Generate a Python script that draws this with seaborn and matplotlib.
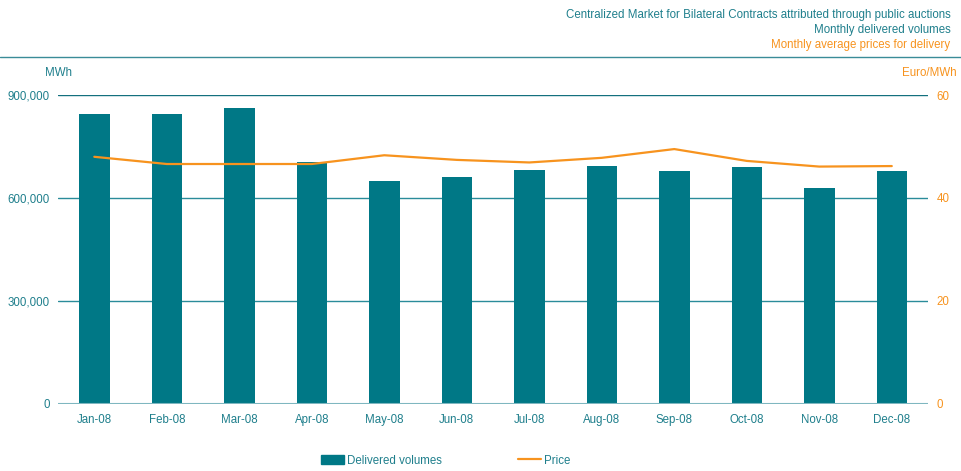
import seaborn as sns
import matplotlib.pyplot as plt
import matplotlib.lines as mlines
import matplotlib.patches as mpatches
import pandas as pd

months = ['Jan-08', 'Feb-08', 'Mar-08', 'Apr-08', 'May-08', 'Jun-08',
          'Jul-08', 'Aug-08', 'Sep-08', 'Oct-08', 'Nov-08', 'Dec-08']
volumes = [845000, 845000, 862000, 705000, 650000, 661000,
           681000, 693000, 679000, 690000, 629000, 679000]
prices = [48.0, 46.6, 46.6, 46.6, 48.3, 47.4,
          46.9, 47.8, 49.5, 47.2, 46.1, 46.2]

teal = '#007886'
teal_text = '#1f7f8c'
orange = '#f7931e'

sns.set_style('white')
plt.rcParams['font.family'] = ['Liberation Sans', 'DejaVu Sans']
plt.rcParams['font.size'] = 8.3

df = pd.DataFrame({'month': months, 'volume': volumes, 'price': prices})

fig = plt.figure(figsize=(9.61, 4.71), dpi=100)
ax = fig.add_axes([0.0604, 0.1423, 0.9053, 0.656])

sns.barplot(data=df, x='month', y='volume', color=teal, saturation=1,
            width=0.42, linewidth=0, ax=ax)
ax.set_ylim(0, 900000)
ax.set_xlim(-0.5, 11.5)
ax.set_yticks([0, 300000, 600000, 900000])
ax.set_yticklabels(['0', '300,000', '600,000', '900,000'])
ax.set_xlabel('')
ax.set_ylabel('')
for s in ax.spines.values():
    s.set_visible(False)
ax.axhline(900000, color='#13707e', lw=1, zorder=0)
ax.axhline(600000, color='#2a8c9a', lw=1, zorder=0)
ax.axhline(300000, color='#2a8c9a', lw=1, zorder=0)
ax.axhline(0, color='#7fb7c0', lw=1.5, zorder=3)
ax.tick_params(axis='both', length=0, colors=teal_text, labelsize=8.3)
ax.tick_params(axis='y', pad=6)
ax.tick_params(axis='x', pad=7)

ax2 = ax.twinx()
sns.lineplot(data=df, x='month', y='price', color=orange, lw=1.6, ax=ax2,
             sort=False)
ax2.set_ylim(0, 60)
ax2.set_yticks([0, 20, 40, 60])
ax2.set_ylabel('')
for s in ax2.spines.values():
    s.set_visible(False)
ax2.tick_params(axis='y', length=0, colors=orange, labelsize=8.3, pad=6)

fig.text(0.061, 0.845, 'MWh', color=teal_text, ha='center', va='center')
fig.text(0.967, 0.845, 'Euro/MWh', color=orange, ha='center', va='center')

fig.text(0.989, 0.968, 'Centralized Market for Bilateral Contracts attributed through public auctions',
         color=teal_text, ha='right', va='center')
fig.text(0.989, 0.937, 'Monthly delivered volumes', color=teal_text,
         ha='right', va='center')
fig.text(0.989, 0.905, 'Monthly average prices for delivery', color=orange,
         ha='right', va='center')
fig.add_artist(mlines.Line2D([0, 1], [0.879, 0.879], color='#3a8c98', lw=1,
                             transform=fig.transFigure))

handles = [mpatches.Patch(color=teal, label='Delivered volumes'),
           mlines.Line2D([], [], color=orange, lw=1.6, label='Price')]
leg = fig.legend(handles=handles, loc='center', bbox_to_anchor=(0.464, 0.022),
                 ncol=2, frameon=False, columnspacing=6.6,
                 handlelength=2.0, handleheight=0.8, handletextpad=0.25)
for t in leg.get_texts():
    t.set_color(teal_text)

fig.savefig('out.png', dpi=100)
